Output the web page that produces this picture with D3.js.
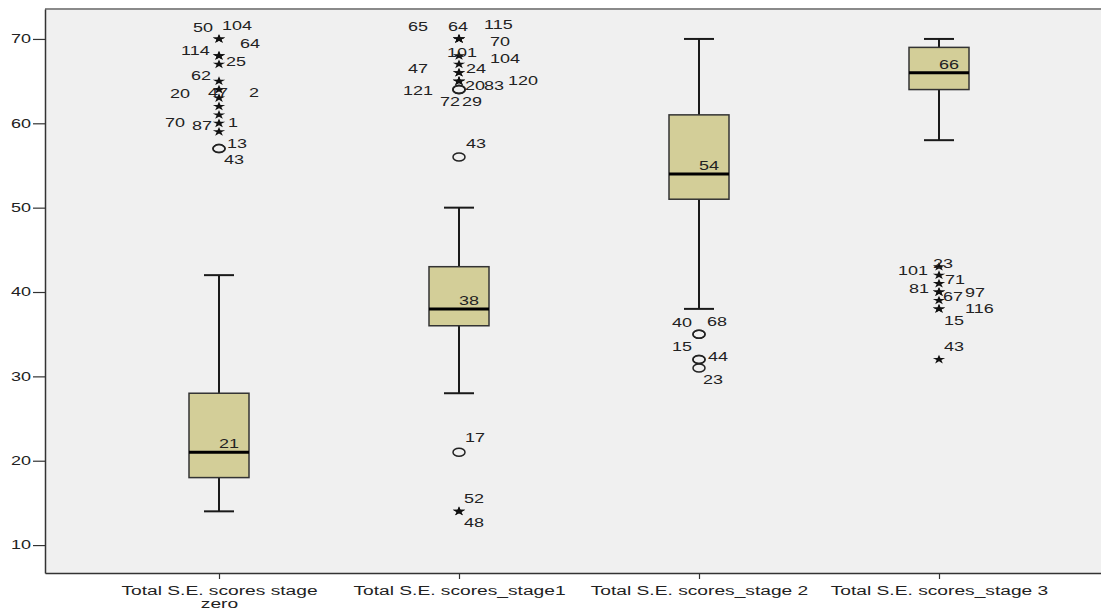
<!DOCTYPE html>
<html>
<head>
<meta charset="utf-8">
<script src="https://cdn.jsdelivr.net/npm/d3@7"></script>
<style>
  body { margin: 0; background: #fff; }
  svg { display: block; font-family: "Liberation Sans", Arial, sans-serif; }
</style>
</head>
<body>
<svg id="chart" width="1101" height="612"></svg>
<script>
// box plot summary, one entry per stage
const categories = [
  'Total S.E. scores stage zero',
  'Total S.E. scores_stage1',
  'Total S.E. scores_stage 2',
  'Total S.E. scores_stage 3'
];
const whiskerLow = [14, 28, 38, 58];
const q1 = [18, 36, 51, 64];
const medians = [21, 38, 54, 66];
const q3 = [28, 43, 61, 69];
const whiskerHigh = [42, 50, 70, 70];
const yTicks = [10, 20, 30, 40, 50, 60, 70];

// outliers: [value, case number]
const outliers0 = [[70, 50], [70, 104], [68, 114], [68, 64], [67, 25], [65, 62], [64, 47],
  [63, 20], [62, 2], [61, 70], [60, 1], [59, 87], [57, 13], [57, 43]];
const outliers1 = [[70, 65], [70, 64], [70, 115], [70, 70], [68, 101], [67, 104], [66, 47],
  [66, 24], [65, 120], [65, 20], [65, 83], [64, 121], [64, 72], [64, 29], [56, 43],
  [21, 17], [14, 52], [14, 48]];
const outliers2 = [[35, 40], [35, 68], [32, 15], [32, 44], [31, 23]];
const outliers3 = [[43, 23], [42, 101], [41, 71], [40, 81], [40, 97], [39, 67], [38, 116],
  [38, 15], [32, 43]];
const outliers = [outliers0, outliers1, outliers2, outliers3];

// label placement (px from the marker), same order as the outliers above
const nudge = [
  [[-26, -7], [3, -9], [-38, -1], [21, -8], [7, 2], [-28, -1], [-11, 7], [-49, 0], [30, -9],
    [-54, 12], [9, 3.5], [-27, -2], [8, -1], [5, 15]],
  [[-51, -8], [-11, -8], [25, -10], [31, 7], [-12, 1], [31, -1], [-51, 0], [7, 0], [49, 4],
    [6, 9], [25, 9], [-56, 5], [-19, 16], [3, 16], [7, -9], [6, -10], [5, -8], [5, 16]],
  [[-27, -7], [8, -8], [-27, -8], [9, 2], [4, 16]],
  [[-6, 1], [-41, 0], [6, 0], [-30, 1], [26, 5], [4, 1], [26, 4], [5, 16], [5, -8]]
];

const stretch = 1.5; // the picture is wider than its fonts
const xStretch = 1.6;
const svg = d3.select('#chart');
const margin = { top: 9, right: -12, bottom: 39, left: 45 };
const width = +svg.attr('width') - margin.left - margin.right;
const height = +svg.attr('height') - margin.top - margin.bottom;
const g = svg.append('g').attr('transform', `translate(${margin.left},${margin.top})`);

const x = d3.scalePoint().domain(categories).range([0, width]).padding(0.725);
const y = d3.scaleLinear().domain([6.69, 73.55]).range([height, 0]);

g.append('rect').attr('width', width).attr('height', height).attr('fill', '#f0f0f0');
g.append('line').attr('x1', 0).attr('x2', width).attr('y1', 0).attr('y2', 0)
  .attr('stroke', '#8a8a8a').attr('stroke-width', 2);

// axes
const yAxis = g.append('g')
  .call(d3.axisLeft(y).tickValues(yTicks).tickSize(12).tickSizeOuter(0));
yAxis.select('.domain').attr('stroke', '#333').attr('stroke-width', 1.5);
yAxis.selectAll('.tick line').attr('stroke', '#333').attr('stroke-width', 1.2);
yAxis.selectAll('.tick text')
  .attr('x', 0)
  .attr('transform', `translate(-14,0) scale(${stretch},1)`)
  .attr('font-size', 12).attr('fill', '#222')
  .attr('font-family', '"Liberation Sans", Arial, sans-serif');

const xAxis = g.append('g')
  .attr('transform', `translate(0,${height})`)
  .call(d3.axisBottom(x).tickSize(6).tickSizeOuter(0));
xAxis.select('.domain').attr('stroke', '#333').attr('stroke-width', 1.5);
xAxis.selectAll('.tick line').attr('stroke', '#333').attr('stroke-width', 1.2);
xAxis.selectAll('.tick text')
  .attr('font-size', 12).attr('fill', '#222')
  .attr('font-family', '"Liberation Sans", Arial, sans-serif')
  .attr('y', 22).attr('dy', null)
  .attr('transform', `scale(${xStretch},1)`)
  .each(function (d) {
    const t = d3.select(this);
    const maxW = (x.step() - 20) / xStretch;
    if (this.getComputedTextLength() <= maxW) return;
    const words = d.split(' ');
    const last = words.pop();
    t.text(null);
    t.append('tspan').attr('x', 0).text(words.join(' '));
    t.append('tspan').attr('x', 0).attr('dy', 13).text(last);
  });

// boxes
const boxW = 60;
const capW = 30;
categories.forEach((c, i) => {
  const cx = x(c);
  const b = g.append('g');
  b.append('line')
    .attr('x1', cx).attr('x2', cx)
    .attr('y1', y(whiskerLow[i])).attr('y2', y(whiskerHigh[i]))
    .attr('stroke', '#1a1a1a').attr('stroke-width', 2);
  [whiskerLow[i], whiskerHigh[i]].forEach(v => {
    b.append('line')
      .attr('x1', cx - capW / 2).attr('x2', cx + capW / 2)
      .attr('y1', y(v)).attr('y2', y(v))
      .attr('stroke', '#1a1a1a').attr('stroke-width', 2);
  });
  b.append('rect')
    .attr('x', cx - boxW / 2).attr('width', boxW)
    .attr('y', y(q3[i])).attr('height', y(q1[i]) - y(q3[i]))
    .attr('fill', '#d3ce98').attr('stroke', '#333').attr('stroke-width', 1.5);
  b.append('line')
    .attr('x1', cx - boxW / 2).attr('x2', cx + boxW / 2)
    .attr('y1', y(medians[i])).attr('y2', y(medians[i]))
    .attr('stroke', '#000').attr('stroke-width', 3);
  b.append('text')
    .attr('transform', `translate(${cx + 20},${y(medians[i]) - 4}) scale(${stretch},1)`)
    .attr('text-anchor', 'end').attr('font-size', 12).attr('fill', '#222')
    .text(medians[i]);

  // outliers: circle within 3 IQR, star beyond
  const iqr = q3[i] - q1[i];
  const star = d3.symbol().type(d3.symbolStar).size(26);
  outliers[i].forEach(([v, id], k) => {
    const extreme = v > q3[i] + 3 * iqr || v < q1[i] - 3 * iqr;
    if (extreme) {
      b.append('path')
        .attr('d', star())
        .attr('transform', `translate(${cx},${y(v)}) scale(1.35,1)`)
        .attr('fill', '#111');
    } else {
      b.append('ellipse')
        .attr('cx', cx).attr('cy', y(v)).attr('rx', 6).attr('ry', 4)
        .attr('fill', 'none').attr('stroke', '#222').attr('stroke-width', 1.5);
    }
    const [dx, dy] = nudge[i][k];
    b.append('text')
      .attr('transform', `translate(${cx + dx},${y(v) + dy}) scale(${stretch},1)`)
      .attr('font-size', 12).attr('fill', '#222')
      .text(id);
  });
});
</script>
</body>
</html>
